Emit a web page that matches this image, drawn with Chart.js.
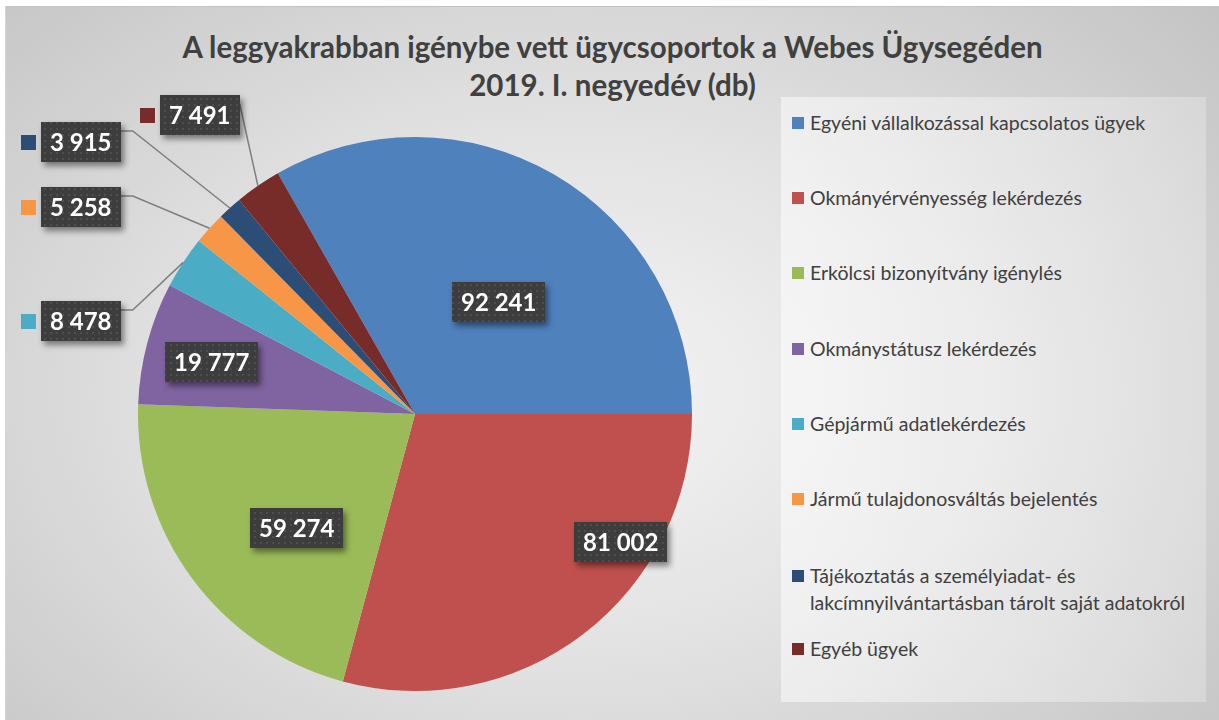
<!DOCTYPE html>
<html lang="hu">
<head>
<meta charset="utf-8">
<script src="https://cdn.jsdelivr.net/npm/chart.js@4.4.1/dist/chart.umd.min.js"></script>
<style>
  html, body { margin: 0; padding: 0; background: #fff; }
  body { width: 1219px; height: 720px; position: relative; overflow: hidden; font-family: Lato, "Open Sans", sans-serif; }
  #frame {
    position: absolute; left: 5px; top: 6px; width: 1214px; height: 714px; box-sizing: border-box;
    background: radial-gradient(ellipse 70% 82% at 47% 54%, #f4f4f4 0%, #e2e2e2 45%, #c4c4c4 100%);
    border-top: 1px solid #c2c2c2; border-left: 1px solid #d6d6d6;
  }
  #title {
    position: absolute; left: 0; top: 28px; width: 1225px; text-align: center;
    font-weight: 700; font-size: 29.5px; line-height: 38px; color: #404040;
  }
  #legend {
    position: absolute; left: 781px; top: 97px; width: 425px; height: 605px;
    background: linear-gradient(90deg, rgba(255,255,255,0.5), rgba(255,255,255,0.25));
  }
  .item { position: absolute; left: 11px; width: 412px; font-size: 19.5px; line-height: 27px; color: #404040; }
  .item .sw { position: absolute; left: 0; top: 8px; width: 12px; height: 12px; }
  .item .tx { margin-left: 18px; }
  canvas { position: absolute; left: 0; top: 0; }
</style>
</head>
<body>
<div id="frame"></div>
<div id="title"></div>
<div id="legend"></div>
<canvas id="pie" width="1219" height="720"></canvas>
<script>
// Data
const titleLines = ['A leggyakrabban igénybe vett ügycsoportok a Webes Ügysegéden', '2019. I. negyedév (db)'];
const categories = [
  'Egyéni vállalkozással kapcsolatos ügyek',
  'Okmányérvényesség lekérdezés',
  'Erkölcsi bizonyítvány igénylés',
  'Okmánystátusz lekérdezés',
  'Gépjármű adatlekérdezés',
  'Jármű tulajdonosváltás bejelentés',
  'Tájékoztatás a személyiadat- és lakcímnyilvántartásban tárolt saját adatokról',
  'Egyéb ügyek'
];
const values = [92241, 81002, 59274, 19777, 8478, 5258, 3915, 7491];
const colors = ['#4F81BD', '#C0504D', '#9BBB59', '#8064A2', '#4BACC6', '#F79646', '#2C4D75', '#772C2A'];

// Layout of the data labels: inner ones in polar form (deg clockwise from 12 o'clock, share of radius),
// outer ones as box centres with a leader line
const labelPlacement = [
  { inside: true, angle: 37, dist: 0.505 },
  { inside: true, angle: 122, dist: 0.874 },
  { inside: true, angle: 226, dist: 0.595 },
  { inside: true, angle: 284.4, dist: 0.757 },
  { inside: false, x: 81, y: 321, elbow: 12 },
  { inside: false, x: 81, y: 207, elbow: 12 },
  { inside: false, x: 81, y: 142, elbow: 12 },
  { inside: false, x: 200, y: 115, elbow: 0 }
];
// legend rows (centre of first text line)
const legendRows = [122, 197, 272, 348, 423, 498, 575, 648];

const fmt = v => String(v).replace(/\B(?=(\d{3})+(?!\d))/g, ' ');
const total = values.reduce((a, b) => a + b, 0);

// Title + legend
document.getElementById('title').innerHTML = titleLines.map(t => `<div>${t}</div>`).join('');
document.getElementById('legend').innerHTML = categories.map((c, i) => `
  <div class="item" style="top:${legendRows[i] - 97 - 13}px">
    <div class="sw" style="background:${colors[i]}"></div>
    <div class="tx">${c.replace('személyiadat- és ', 'személyiadat- és<br>')}</div>
  </div>`).join('');

// Dotted fill for the label boxes
function makePattern(ctx) {
  const p = document.createElement('canvas');
  p.width = 6; p.height = 6;
  const pc = p.getContext('2d');
  pc.fillStyle = '#3d3d3d';
  pc.fillRect(0, 0, 6, 6);
  pc.fillStyle = '#4e4e4e';
  pc.fillRect(2, 2, 2, 2);
  return ctx.createPattern(p, 'repeat');
}

const labelPlugin = {
  id: 'boxLabels',
  afterDatasetsDraw(chart) {
    const ctx = chart.ctx;
    const meta = chart.getDatasetMeta(0);
    const pattern = makePattern(ctx);
    ctx.save();
    ctx.font = 'bold 24px Lato, "Open Sans", sans-serif';
    ctx.textAlign = 'center';
    ctx.textBaseline = 'middle';

    meta.data.forEach((arc, i) => {
      const { x, y, outerRadius, startAngle, endAngle } = arc.getProps(['x', 'y', 'outerRadius', 'startAngle', 'endAngle'], true);
      const pl = labelPlacement[i];
      const text = fmt(values[i]);
      const w = ctx.measureText(text).width + 18;
      const h = 40;
      let cx, cy;
      if (pl.inside) {
        const a = (pl.angle - 90) * Math.PI / 180;
        cx = x + Math.cos(a) * outerRadius * pl.dist;
        cy = y + Math.sin(a) * outerRadius * pl.dist;
      } else {
        cx = pl.x; cy = pl.y;
        // leader line to the middle of the slice edge
        const mid = (startAngle + endAngle) / 2;
        const ex = x + Math.cos(mid) * outerRadius;
        const ey = y + Math.sin(mid) * outerRadius;
        const sx = cx + w / 2, sy = cy - h / 2 + 9;
        ctx.strokeStyle = '#7f7f7f';
        ctx.lineWidth = 1.5;
        ctx.beginPath();
        ctx.moveTo(sx, sy);
        ctx.lineTo(sx + pl.elbow, sy);
        ctx.lineTo(ex, ey);
        ctx.stroke();
        // colour key
        ctx.fillStyle = colors[i];
        ctx.fillRect(Math.round(cx - w / 2 - 20), Math.round(cy - 7), 15, 15);
      }
      const bx = Math.round(cx - w / 2), by = Math.round(cy - h / 2);
      ctx.save();
      ctx.shadowColor = 'rgba(0,0,0,0.45)';
      ctx.shadowBlur = 6;
      ctx.shadowOffsetX = 3;
      ctx.shadowOffsetY = 4;
      ctx.fillStyle = '#3d3d3d';
      ctx.fillRect(bx, by, Math.round(w), h);
      ctx.restore();
      ctx.fillStyle = pattern;
      ctx.fillRect(bx, by, Math.round(w), h);
      ctx.fillStyle = '#ffffff';
      ctx.fillText(text, bx + w / 2, by + h / 2 + 1);
    });
    ctx.restore();
  }
};

new Chart(document.getElementById('pie'), {
  type: 'pie',
  data: {
    labels: categories,
    datasets: [{
      data: values,
      backgroundColor: colors,
      borderWidth: 0,
      hoverOffset: 0,
      offset: 0
    }]
  },
  options: {
    responsive: false,
    animation: false,
    rotation: 90 - 360 * values[0] / total,
    layout: { padding: { left: 138, top: 137, right: 527, bottom: 29 } },
    plugins: {
      legend: { display: false },
      tooltip: { enabled: false },
      title: { display: false }
    }
  },
  plugins: [labelPlugin]
});
</script>
</body>
</html>
